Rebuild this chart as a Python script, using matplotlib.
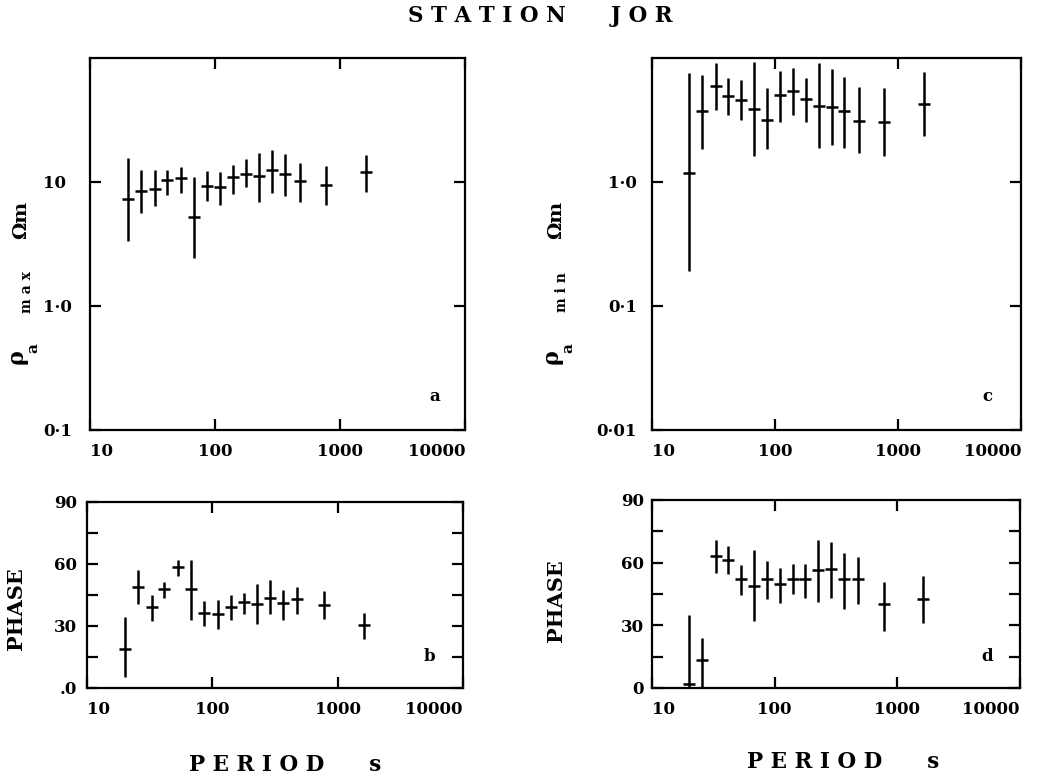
import matplotlib
matplotlib.use('Agg')
import matplotlib.pyplot as plt
from matplotlib.ticker import NullLocator, FixedLocator, FixedFormatter

# periods (s) shared by all four panels
period = [20, 25.7, 33, 41.5, 53, 67.5, 86, 110, 140, 178, 226, 288, 366, 478, 775, 1620]

# a: apparent resistivity, max direction (ohm m)
rho_max    = [7.3, 8.4, 8.8, 10.3, 10.8, 5.25, 9.2, 9.05, 10.9, 11.5, 11.1, 12.6, 11.5, 10.1, 9.4, 12.1]
rho_max_lo = [3.33, 5.6, 6.4, 7.9, 8.2, 2.43, 7.05, 6.5, 8.0, 9.05, 6.95, 8.1, 7.7, 6.95, 6.5, 8.3]
rho_max_hi = [15.7, 12.6, 12.4, 12.6, 13.2, 10.9, 12.2, 12.0, 13.8, 15.4, 17.2, 18.1, 16.7, 14.1, 13.4, 16.5]

# b: phase, max direction (degrees)
ph_max    = [19, 48.9, 39.2, 48.1, 58.5, 48.1, 36.3, 36, 39.2, 41.6, 40.8, 43.7, 41.1, 43.2, 40, 30.3]
ph_max_lo = [5.3, 40.8, 32.4, 43.5, 54.2, 32.7, 29.8, 28.7, 32.7, 36, 31.1, 35.6, 33.1, 35.6, 33.5, 23.9]
ph_max_hi = [34.4, 57.3, 45.2, 51.3, 62.1, 62.1, 42.1, 42.7, 44.8, 46.1, 50.2, 52.1, 47.6, 48.9, 46.9, 36.5]

# c: apparent resistivity, min direction (ohm m)
rho_min    = [1.19, 3.72, 5.95, 4.93, 4.57, 3.89, 3.18, 4.99, 5.42, 4.63, 4.09, 4.01, 3.72, 3.12, 3.05, 4.27]
rho_min_lo = [0.193, 1.84, 3.79, 3.5, 3.14, 1.62, 1.84, 3.03, 3.45, 3.03, 1.87, 1.99, 1.87, 1.72, 1.62, 2.36]
rho_min_hi = [7.5, 7.27, 9.1, 6.87, 6.62, 9.33, 5.77, 7.79, 8.29, 6.96, 9.05, 8.13, 7.09, 5.88, 5.77, 7.64]

# d: phase, min direction (degrees)
ph_min    = [2.1, 13.3, 63.3, 61.5, 52.1, 48.9, 52.1, 50, 52.4, 52.4, 56.7, 56.9, 52.1, 52.4, 40, 42.8]
ph_min_lo = [0, 0, 55.1, 54.8, 44.4, 32, 42.5, 40.8, 44.8, 43.3, 41.2, 43.3, 38, 40.1, 27.3, 31.3]
ph_min_hi = [34.8, 24.1, 70.8, 67.9, 58.8, 66, 60.9, 57.5, 59.3, 59.3, 70.8, 70, 64.7, 62.8, 50.8, 53.5]

x_ticks = [10, 100, 1000, 10000]
x_labels = ['10', '100', '1000', '10000']

plt.rcParams['font.family'] = 'DejaVu Serif'
plt.rcParams['font.weight'] = 'bold'

W, H = 1041, 778
fig = plt.figure(figsize=(W / 100, H / 100), dpi=100)


def box(left, top, right, bottom):
    return [left / W, 1 - bottom / H, (right - left) / W, (bottom - top) / H]


def px(x, y):
    return x / W, 1 - y / H


def setup(ax, ypad):
    for s in ax.spines.values():
        s.set_linewidth(1.6)
    ax.set_xscale('log')
    ax.set_xlim(10, 10000)
    ax.xaxis.set_major_locator(FixedLocator(x_ticks))
    ax.xaxis.set_major_formatter(FixedFormatter(x_labels))
    ax.xaxis.set_minor_locator(NullLocator())
    ax.tick_params(which='both', direction='in', length=8, width=1.6,
                   top=True, right=True, labelsize=12)
    ax.tick_params(axis='x', pad=9)
    ax.tick_params(axis='y', pad=ypad)
    labs = ax.get_xticklabels()
    labs[0].set_ha('left')
    labs[-1].set_ha('right')


def crosses(ax, y, lo, hi):
    err = [[v - l for v, l in zip(y, lo)], [h - v for v, h in zip(y, hi)]]
    ax.errorbar(period, y, yerr=err, fmt='_', color='black', ms=8, mew=1.8,
                elinewidth=1.8, capsize=0)


def rho_label(x, y, sub):
    # rho_a, then the direction tag, then the unit, all running upwards
    fig.text(*px(x, y), 'ρ', rotation=90, fontsize=16, ha='center', va='center')
    fig.text(*px(x + 16, y - 9), 'a', rotation=90, fontsize=11, ha='center', va='center')
    fig.text(*px(x + 10, y - 65), sub, rotation=90, fontsize=10, ha='center', va='center')
    fig.text(*px(x + 4, y - 137), 'Ωm', rotation=90, fontsize=14, ha='center', va='center')


# a
ax_a = fig.add_axes(box(90, 58, 465, 430))
setup(ax_a, 34)
ax_a.set_yscale('log')
ax_a.set_ylim(0.1, 100)
ax_a.yaxis.set_major_locator(FixedLocator([0.1, 1, 10]))
ax_a.yaxis.set_major_formatter(FixedFormatter(['0·1', '1·0', '10']))
ax_a.yaxis.set_minor_locator(NullLocator())
for t in ax_a.get_yticklabels():
    t.set_ha('left')
crosses(ax_a, rho_max, rho_max_lo, rho_max_hi)
ax_a.text(0.92, 0.09, 'a', transform=ax_a.transAxes, fontsize=12, ha='center', va='center')

# c
ax_c = fig.add_axes(box(652, 58, 1021, 430))
setup(ax_c, 11)
ax_c.set_yscale('log')
ax_c.set_ylim(0.01, 10)
ax_c.yaxis.set_major_locator(FixedLocator([0.01, 0.1, 1]))
ax_c.yaxis.set_major_formatter(FixedFormatter(['0·01', '0·1', '1·0']))
ax_c.yaxis.set_minor_locator(NullLocator())
crosses(ax_c, rho_min, rho_min_lo, rho_min_hi)
ax_c.text(0.91, 0.09, 'c', transform=ax_c.transAxes, fontsize=12, ha='center', va='center')

# b
ax_b = fig.add_axes(box(87, 502, 463, 688))
setup(ax_b, 7)
ax_b.set_ylim(0, 90)
ax_b.yaxis.set_major_locator(FixedLocator([0, 15, 30, 45, 60, 75, 90]))
ax_b.yaxis.set_major_formatter(FixedFormatter(['.0', '', '30', '', '60', '', '90']))
crosses(ax_b, ph_max, ph_max_lo, ph_max_hi)
ax_b.text(0.91, 0.17, 'b', transform=ax_b.transAxes, fontsize=12, ha='center', va='center')

# d
ax_d = fig.add_axes(box(652, 500, 1020, 688))
setup(ax_d, 6)
ax_d.set_ylim(0, 90)
ax_d.yaxis.set_major_locator(FixedLocator([0, 15, 30, 45, 60, 75, 90]))
ax_d.yaxis.set_major_formatter(FixedFormatter(['0', '', '30', '', '60', '', '90']))
crosses(ax_d, ph_min, ph_min_lo, ph_min_hi)
ax_d.text(0.91, 0.17, 'd', transform=ax_d.transAxes, fontsize=12, ha='center', va='center')

# titles and axis names
fig.text(*px(540, 16), 'S T A T I O N      J O R', fontsize=15.5, ha='center', va='center')

rho_label(17, 357, 'm a x')
rho_label(552, 357, 'm i n')

fig.text(*px(16, 609), 'PHASE', rotation=90, fontsize=15, ha='center', va='center')
fig.text(*px(556, 601), 'PHASE', rotation=90, fontsize=15, ha='center', va='center')

fig.text(*px(285, 765), 'P E R I O D      s', fontsize=15.5, ha='center', va='center')
fig.text(*px(843, 762), 'P E R I O D      s', fontsize=15.5, ha='center', va='center')

fig.savefig('out.png', dpi=100)
